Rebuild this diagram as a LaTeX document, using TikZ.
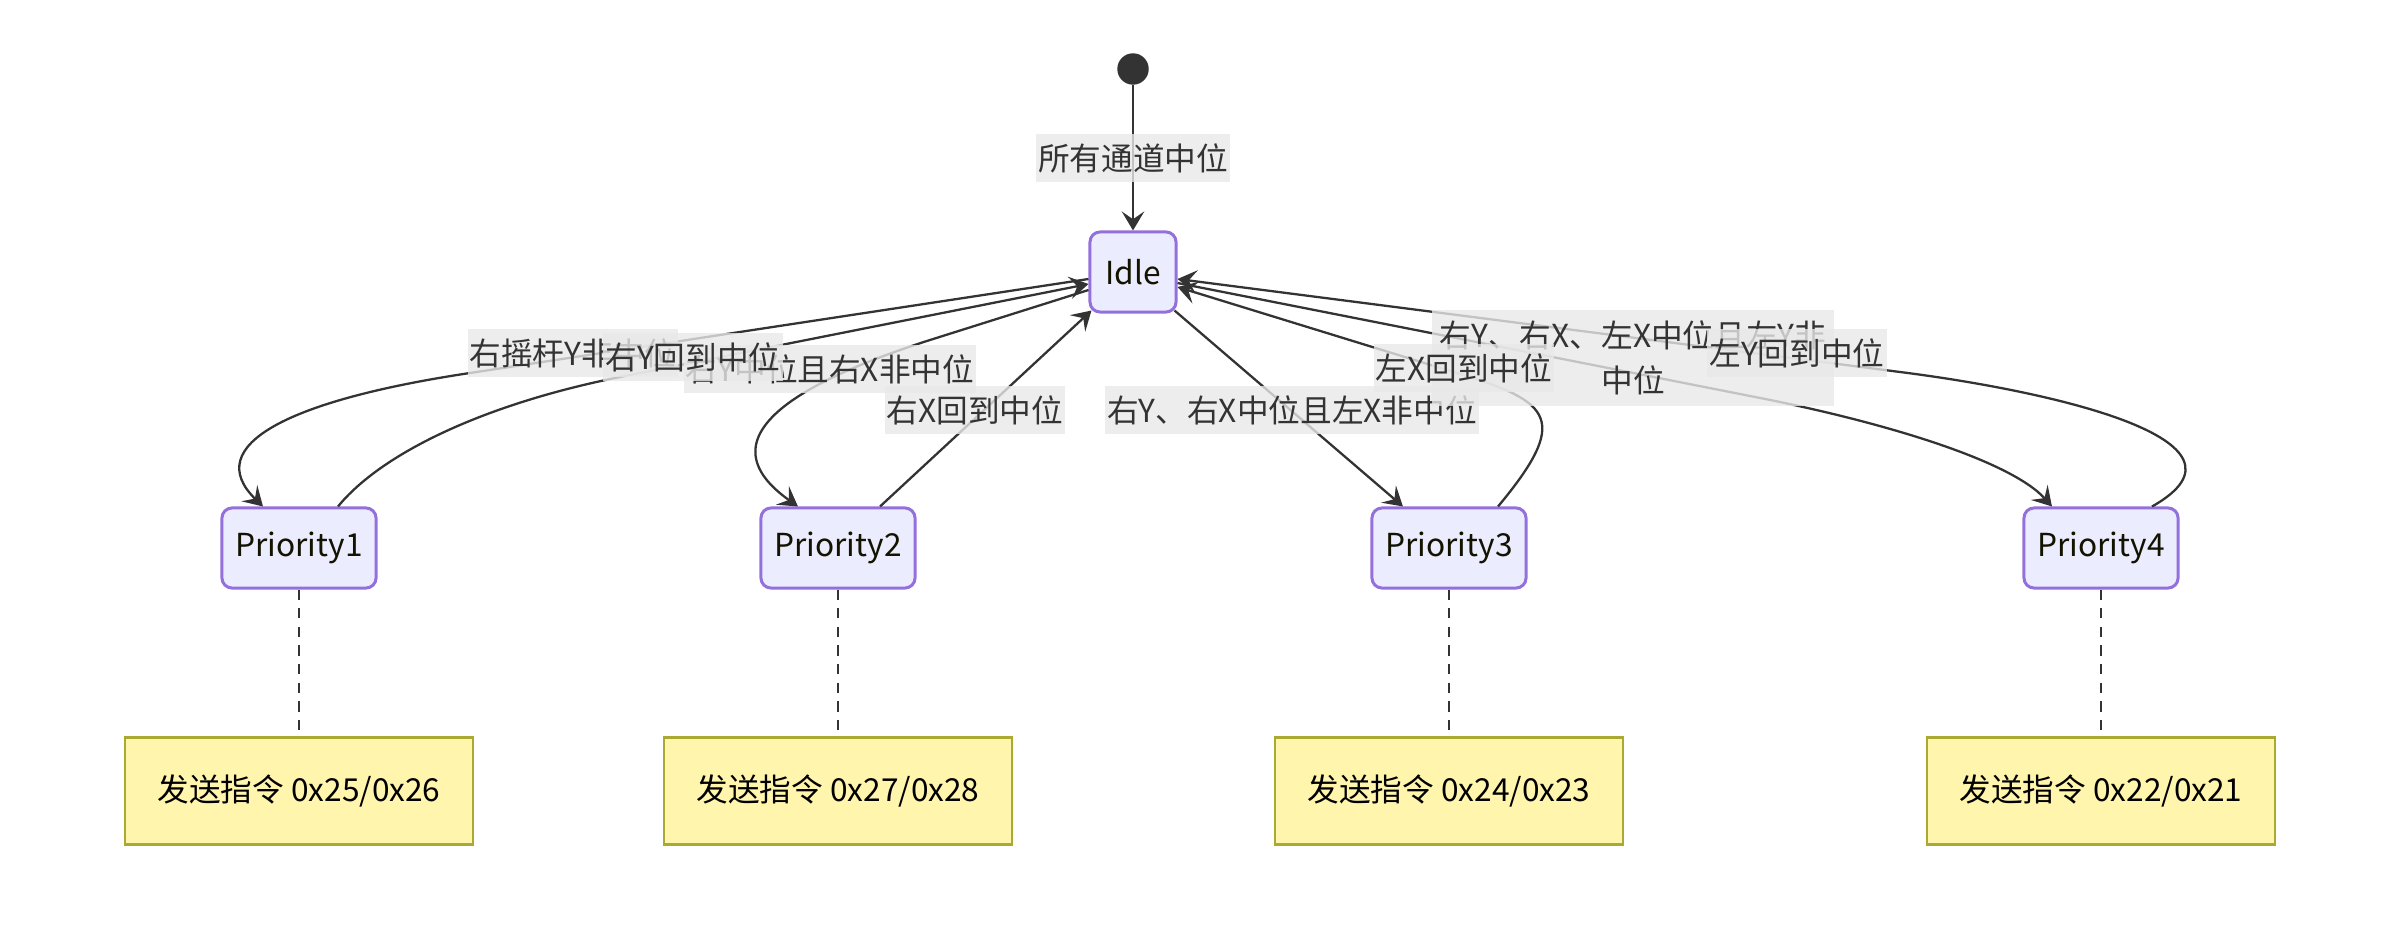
\documentclass[tikz,border=0pt]{standalone}
\usepackage{fontspec}
\setmainfont{Noto Sans CJK SC}
\usetikzlibrary{arrows.meta}
\definecolor{nodefill}{HTML}{ECECFF}
\definecolor{nodeline}{HTML}{9370DB}
\definecolor{notefill}{HTML}{FFF5AD}
\definecolor{noteline}{HTML}{AAAA33}
\definecolor{edgecol}{HTML}{333333}
\definecolor{lblbg}{HTML}{E8E8E8}
\definecolor{txtcol}{HTML}{333333}
\definecolor{nodetxt}{HTML}{131300}
\tikzset{
  statebox/.style={draw=nodeline, fill=nodefill, line width=0.85pt, rounded corners=0.1cm,
    minimum height=0.8cm, inner sep=0pt, text=nodetxt},
  notebox/.style={draw=noteline, fill=notefill, line width=0.6pt,
    minimum width=3.48cm, minimum height=1.07cm, inner sep=0pt, text=black},
  startdot/.style={circle, fill=edgecol, draw=edgecol, minimum size=0.3cm, inner sep=0pt},
  trans/.style={draw=edgecol, line width=0.65pt, -{Stealth[length=5.4pt,width=6.4pt,inset=2.2pt]}},
  notelink/.style={draw=edgecol, line width=0.55pt, dash pattern=on 2.9pt off 2.4pt},
  lbl/.style={fill=lblbg, fill opacity=0.8, text opacity=1, text=txtcol,
    inner xsep=0.02cm, inner ysep=0pt, minimum height=0.48cm},
}
\begin{document}
\begin{tikzpicture}[x=0.01cm, y=-0.01cm, font=\fontsize{9pt}{12.8pt}\selectfont]
\useasboundingbox (0,0) rectangle (2400,952);
% states
\node[startdot] (start) at (1133,69) {};
\node[statebox, minimum width=0.86cm] (idle) at (1133,272) {Idle};
\node[statebox, minimum width=1.54cm] (p1) at (299,548) {Priority1};
\node[statebox, minimum width=1.54cm] (p2) at (838,548) {Priority2};
\node[statebox, minimum width=1.54cm] (p3) at (1449,548) {Priority3};
\node[statebox, minimum width=1.54cm] (p4) at (2101,548) {Priority4};
% notes
\node[notebox] (n1) at (299,791) {发送指令 0x25/0x26};
\node[notebox] (n2) at (838,791) {发送指令 0x27/0x28};
\node[notebox] (n3) at (1449,791) {发送指令 0x24/0x23};
\node[notebox] (n4) at (2101,791) {发送指令 0x22/0x21};
\draw[notelink] (p1.south) -- (n1.north);
\draw[notelink] (p2.south) -- (n2.north);
\draw[notelink] (p3.south) -- (n3.north);
\draw[notelink] (p4.south) -- (n4.north);
% transitions
\draw[trans] (start.south) -- (idle.north);
\draw[trans] ([yshift=-0.07cm]idle.west) -- (470,373) .. controls (290,400) and (200,445) .. ([xshift=-0.36cm]p1.north);
\draw[trans] ([xshift=0.39cm]p1.north) .. controls (380,455) and (480,405) .. (620,377) -- ([yshift=-0.12cm]idle.west);
\draw[trans] ([yshift=-0.18cm]idle.west) -- (930,340) .. controls (830,372) and (690,430) .. ([xshift=-0.40cm]p2.north);
\draw[trans] ([xshift=0.42cm]p2.north) -- ([shift={(0.03cm,0.03cm)}]idle.south west);
\draw[trans] ([shift={(-0.03cm,0.03cm)}]idle.south east) -- ([xshift=-0.46cm]p3.north);
\draw[trans] ([xshift=0.49cm]p3.north) .. controls (1570,420) and (1552,402) .. (1460,374) -- ([yshift=-0.15cm]idle.east);
\draw[trans] ([yshift=-0.11cm]idle.east) -- (1750,396) .. controls (1880,421) and (2010,460) .. ([xshift=-0.49cm]p4.north);
\draw[trans] ([xshift=0.51cm]p4.north) .. controls (2270,440) and (2050,391) .. (1900,372) -- ([yshift=-0.07cm]idle.east);
% labels
\node[lbl] (l0) at (1133,158) {所有通道中位};
\node[lbl] (l1) at (573,353) {右摇杆Y非中位};
\node[lbl] (l3) at (830,369) {右Y中位且右X非中位};
\node[lbl] (l2) at (693,357) {右Y回到中位};
\node[lbl] (l4) at (975,410) {右X回到中位};
\node[lbl] (l5) at (1292,410) {右Y、右X中位且左X非中位};
\node[lbl, align=center, minimum width=4.01cm, minimum height=0.96cm] (l7) at (1633,358) {右Y、右X、左X中位且左Y非\\中位};
\node[lbl] (l6) at (1464,368) {左X回到中位};
\node[lbl] (l8) at (1797,353) {左Y回到中位};
\end{tikzpicture}
\end{document}
